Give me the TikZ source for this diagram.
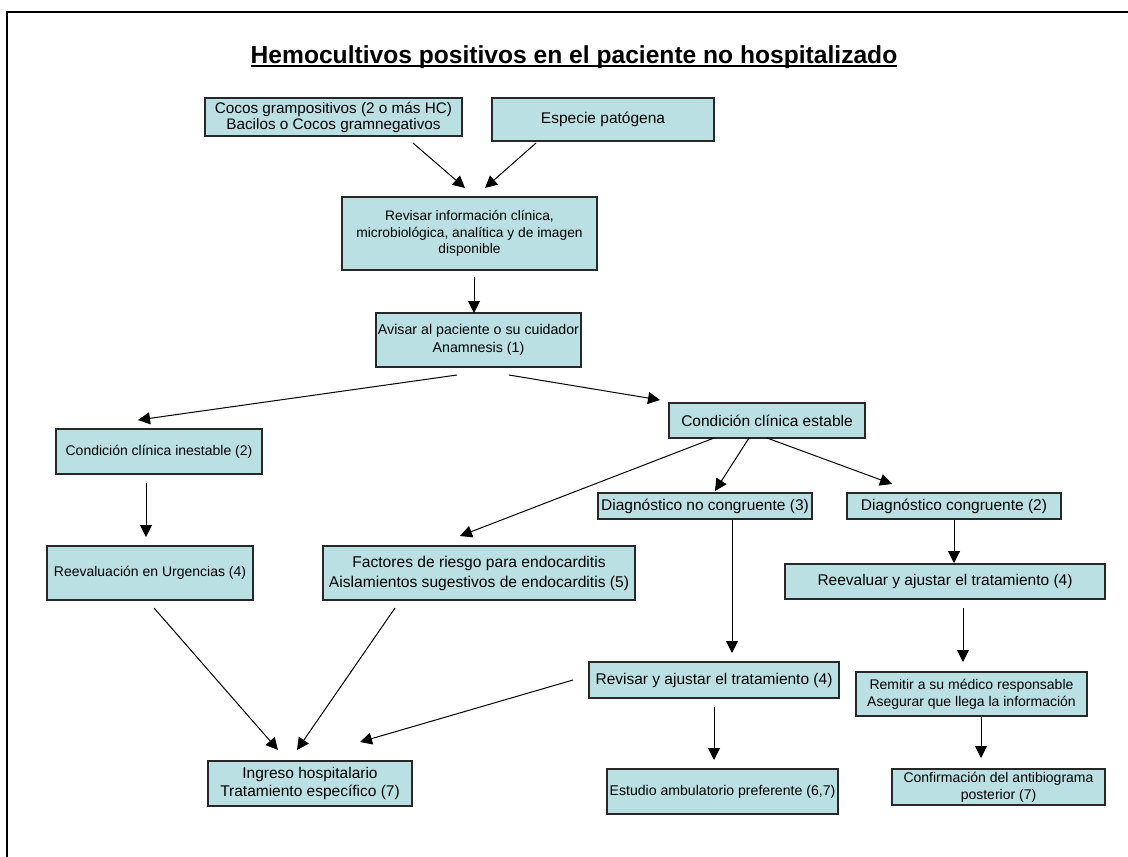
\documentclass[tikz,border=0pt]{standalone}
\usepackage{fontspec}
\setmainfont{Liberation Sans}
\usetikzlibrary{arrows.meta}
\definecolor{boxfill}{RGB}{186,224,227}
\definecolor{boxline}{RGB}{40,40,40}
\newcommand\fs[2]{\fontsize{#1}{#2}\selectfont}
\tikzset{
  bx/.style={draw=boxline, line width=1.3pt, fill=boxfill, inner sep=1pt, align=center, text=black},
  arr/.style={-{Triangle[length=12pt,width=12pt]}, line width=1pt, black},
  frame/.style={line width=2.2pt, black}
}
\begin{document}
\begin{tikzpicture}[x=1pt,y=-1pt]
\useasboundingbox (0,0) rectangle (1128,857);
\coordinate (ftl) at (6.7,12.2);
\coordinate (ftr) at (1128,12.2);
\coordinate (fbl) at (6.7,857);
\draw[frame] (fbl) -- (ftl) -- (ftr);

\node[inner sep=0pt, font=\fs{24.6}{29}\bfseries] (title) at (574,57) {Hemocultivos positivos en el paciente no hospitalizado};
\draw[line width=1.8pt] ([yshift=-3pt]title.base west) -- ([yshift=-3pt]title.base east);

\node[bx, minimum width=257pt, minimum height=38pt, font=\fs{15.3}{16}] (cocos) at (333.5,117) {Cocos grampositivos (2 o más HC)\\Bacilos o Cocos gramnegativos};
\node[bx, minimum width=222pt, minimum height=43pt, font=\fs{15.5}{17}] (especie) at (603,119.5) {Especie patógena};
\node[bx, minimum width=255pt, minimum height=73pt, font=\fs{13.8}{16.5}] (revisar) at (469.5,233.5) {Revisar información clínica,\\microbiológica, analítica y de imagen\\disponible};
\node[bx, minimum width=205pt, minimum height=54pt, font=\fs{14.2}{18}] (avisar) at (478.5,340) {Avisar al paciente o su cuidador\\Anamnesis (1)};
\node[bx, minimum width=196pt, minimum height=35pt, font=\fs{15.5}{17}] (estable) at (767,420.5) {Condición clínica estable};
\node[bx, minimum width=206pt, minimum height=45pt, font=\fs{14}{16}] (inestable) at (159,451.5) {Condición clínica inestable (2)};
\node[bx, minimum width=206pt, minimum height=54pt, font=\fs{14}{16}] (urg) at (150,573) {Reevaluación en Urgencias (4)};
\node[bx, minimum width=312pt, minimum height=54pt, font=\fs{15.6}{20}] (factores) at (479,573) {Factores de riesgo para endocarditis\\Aislamientos sugestivos de endocarditis (5)};
\node[bx, minimum width=214pt, minimum height=26pt, font=\fs{15.5}{17}] (diagno) at (705,506) {Diagnóstico no congruente (3)};
\node[bx, minimum width=214pt, minimum height=26pt, font=\fs{15.5}{17}] (diagc) at (954,506) {Diagnóstico congruente (2)};
\node[bx, minimum width=320pt, minimum height=35pt, font=\fs{15.5}{17}] (reeval) at (945,581.5) {Reevaluar y ajustar el tratamiento (4)};
\node[bx, minimum width=250pt, minimum height=36pt, font=\fs{15.5}{17}] (revaj) at (714,680) {Revisar y ajustar el tratamiento (4)};
\node[bx, minimum width=231pt, minimum height=44pt, font=\fs{14}{16.7}] (remitir) at (971.5,694) {Remitir a su médico responsable\\Asegurar que llega la información};
\node[bx, minimum width=204pt, minimum height=45pt, font=\fs{15.5}{18}] (ingreso) at (310,783.5) {Ingreso hospitalario\\Tratamiento específico (7)};
\node[bx, minimum width=231pt, minimum height=45pt, font=\fs{14.1}{17}] (estudio) at (722.5,791.5) {Estudio ambulatorio preferente (6,7)};
\node[bx, minimum width=213pt, minimum height=36pt, font=\fs{14}{16.7}] (confirm) at (998.5,787) {Confirmación del antibiograma\\posterior (7)};

% arrow end points
\coordinate (a1s) at (413,143); \coordinate (a1e) at (465,188);
\coordinate (a2s) at (536,143); \coordinate (a2e) at (485,188);
\coordinate (a3s) at (474,277); \coordinate (a3e) at (474,313);
\coordinate (a4s) at (457,375); \coordinate (a4e) at (138,420);
\coordinate (a5s) at (509,375); \coordinate (a5e) at (660,400);
\coordinate (a6s) at (714,438); \coordinate (a6e) at (460,536);
\coordinate (a7s) at (749,438); \coordinate (a7e) at (715,491);
\coordinate (a8s) at (767,438); \coordinate (a8e) at (892,484);
\coordinate (a9s) at (146,483); \coordinate (a9e) at (146,537);
\coordinate (a10s) at (732,520); \coordinate (a10e) at (732,653);
\coordinate (a11s) at (954,520); \coordinate (a11e) at (954,563);
\coordinate (a12s) at (963,608); \coordinate (a12e) at (963,662);
\coordinate (a13s) at (154,608); \coordinate (a13e) at (278,750);
\coordinate (a14s) at (395,608); \coordinate (a14e) at (297,750);
\coordinate (a15s) at (573,680); \coordinate (a15e) at (360,742);
\coordinate (a16s) at (714,707); \coordinate (a16e) at (714,760);
\coordinate (a17s) at (981,717); \coordinate (a17e) at (981,758);

\draw[arr] (a1s) -- (a1e);
\draw[arr] (a2s) -- (a2e);
\draw[arr] (a3s) -- (a3e);
\draw[arr] (a4s) -- (a4e);
\draw[arr] (a5s) -- (a5e);
\draw[arr] (a6s) -- (a6e);
\draw[arr] (a7s) -- (a7e);
\draw[arr] (a8s) -- (a8e);
\draw[arr] (a9s) -- (a9e);
\draw[arr] (a10s) -- (a10e);
\draw[arr] (a11s) -- (a11e);
\draw[arr] (a12s) -- (a12e);
\draw[arr] (a13s) -- (a13e);
\draw[arr] (a14s) -- (a14e);
\draw[arr] (a15s) -- (a15e);
\draw[arr] (a16s) -- (a16e);
\draw[arr] (a17s) -- (a17e);
\end{tikzpicture}
\end{document}
